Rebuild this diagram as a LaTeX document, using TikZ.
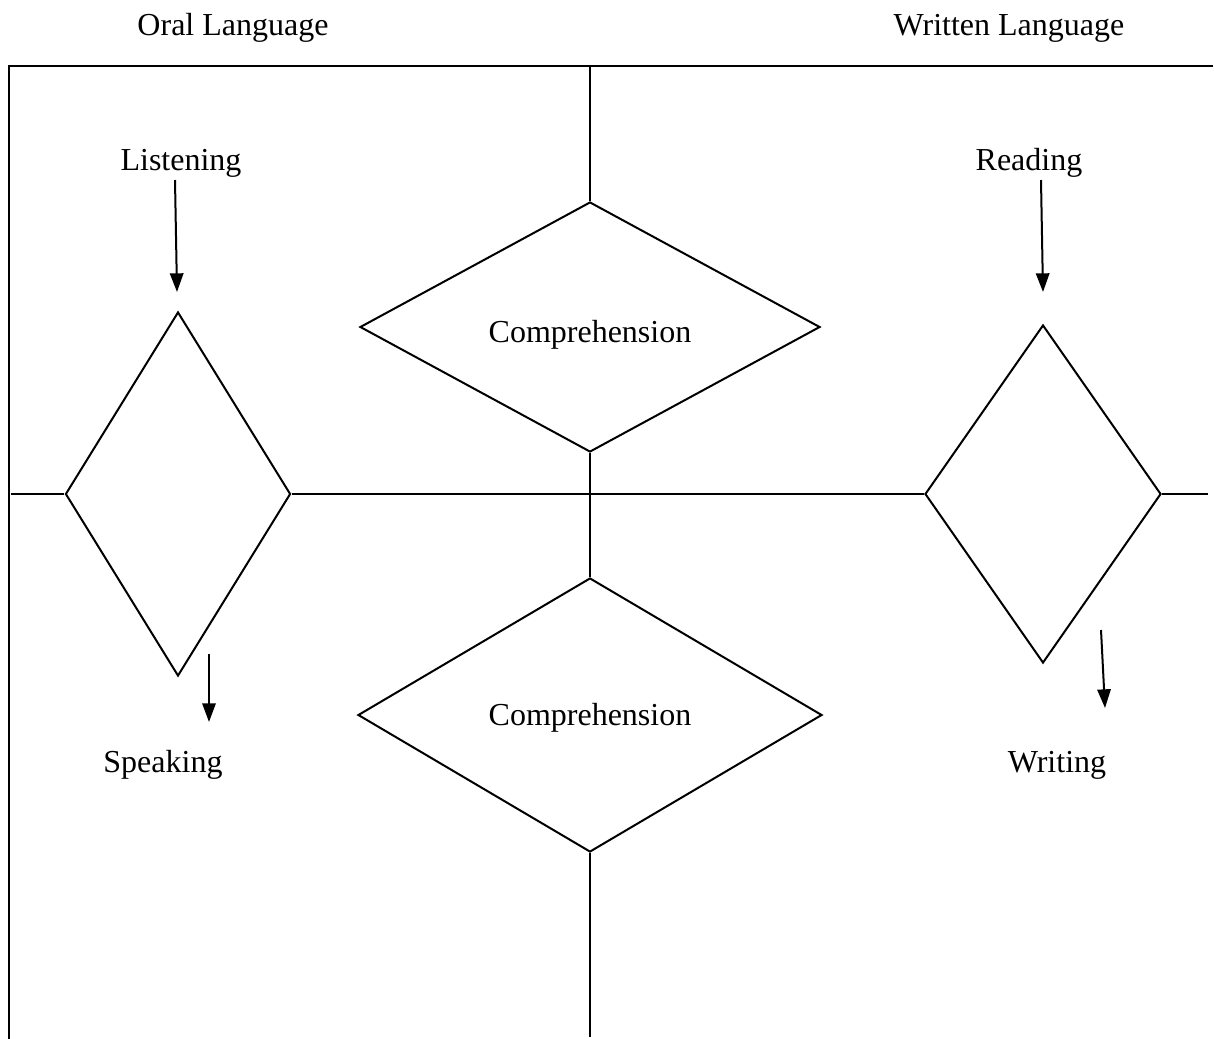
\documentclass[tikz,border=0pt]{standalone}
\usepackage{fontspec}
\setmainfont{Liberation Serif}
\usetikzlibrary{shapes.geometric,arrows.meta}
\begin{document}
\begin{tikzpicture}[x=0.375pt,y=-0.375pt,
		line width=0.75pt,
		label/.style={font=\fontsize{12}{14}\selectfont,inner sep=0pt},
		kite/.style={draw,shape=diamond,inner sep=0pt,font=\fontsize{12}{14}\selectfont},
		arr/.style={-{Triangle[width=5pt,length=7pt]}}]
	\useasboundingbox (0,0) rectangle (1214,1039);
	\node[label] (oral) at (233,28) {Oral Language};
	\node[label] (written) at (1009,28) {Written Language};
	\node[label] (listen) at (181,163) {Listening};
	\node[label] (read) at (1029,163) {Reading};
	\node[label] (speak) at (163,765) {Speaking};
	\node[label] (write) at (1057,765) {Writing};
	\node[kite,minimum width=84.4pt,minimum height=136.5pt,aspect=0.62] (ldia) at (178,494) {};
	\node[kite,minimum width=172.5pt,minimum height=93.75pt,aspect=1.84] (tdia) at (590,327) {\raisebox{-3pt}[\height][\depth]{Comprehension}};
	\node[kite,minimum width=174pt,minimum height=102.75pt,aspect=1.69] (bdia) at (590,715) {\raisebox{-1pt}[\height][\depth]{Comprehension}};
	\node[kite,minimum width=88.5pt,minimum height=126.75pt,aspect=0.70] (rdia) at (1043,494) {};
	\coordinate (frame-tr) at (1213,66);
	\coordinate (frame-tl) at (9,66);
	\coordinate (frame-bl) at (9,1039);
	\coordinate (mid-top) at (590,66);
	\coordinate (mid-bot) at (590,1037);
	\coordinate (hor-l) at (11,494);
	\coordinate (hor-r) at (1208,494);
	\coordinate (listen-a) at (175,180);
	\coordinate (listen-b) at (177,292);
	\coordinate (read-a) at (1041,180);
	\coordinate (read-b) at (1043,292);
	\coordinate (speak-a) at (209,654);
	\coordinate (speak-b) at (209,722);
	\coordinate (write-a) at (1101,630);
	\coordinate (write-b) at (1105,708);
	\draw (frame-tr) -- (frame-tl) -- (frame-bl);
	\draw (mid-top) -- (tdia.north);
	\draw (tdia.south) -- (bdia.north);
	\draw (bdia.south) -- (mid-bot);
	\draw (hor-l) -- (ldia.west);
	\draw (ldia.east) -- (rdia.west);
	\draw (rdia.east) -- (hor-r);
	\draw[arr] (listen-a) -- (listen-b);
	\draw[arr] (read-a) -- (read-b);
	\draw[arr] (speak-a) -- (speak-b);
	\draw[arr] (write-a) -- (write-b);
\end{tikzpicture}
\end{document}
